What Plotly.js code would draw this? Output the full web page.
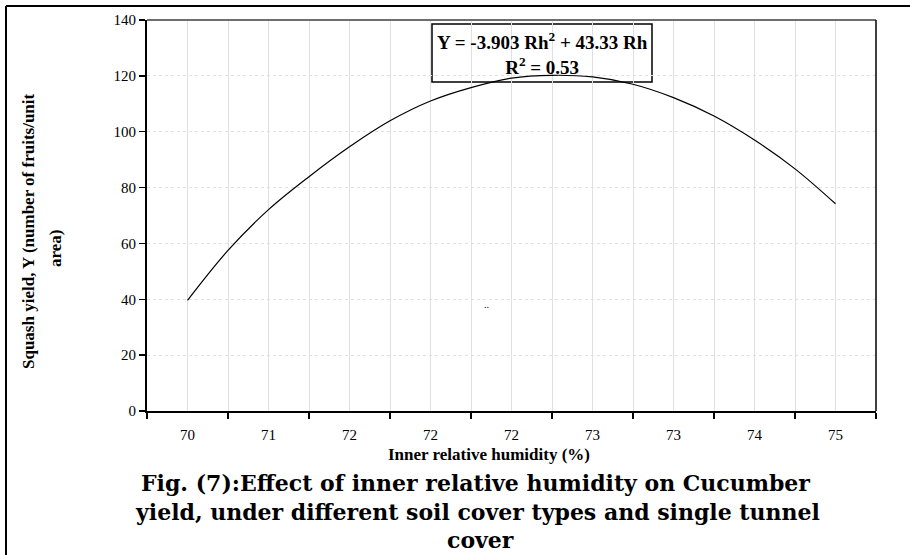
<!DOCTYPE html>
<html>
<head>
<meta charset="utf-8">
<script src="https://cdn.plot.ly/plotly-3.0.1.min.js"></script>
<style>
html,body{margin:0;padding:0;background:#fff;}
#chart{width:910px;height:555px;}
</style>
</head>
<body>
<div id="chart"></div>
<script>
// category tick labels (Inner relative humidity, %)
const tickLabels = ['70','71','72','72','72','73','73','74','75'];
const tickPos = [1,2,3,4,5,6,7,8,9];
// curve sample positions (category index) and squash yield values
const curveX = [1,1.5,2,2.5,3,3.5,4,4.5,5,5.5,6,6.5,7,7.5,8,8.5,9];
const curveY = [39.6,57.5,72.1,83.9,94.6,103.9,111.0,115.8,119.2,120.2,119.6,117.0,112.2,105.6,97.0,86.7,74.2];
const equationText = 'Y = -3.903 Rh<sup>2</sup> + 43.33 Rh<br>R<sup>2</sup> = 0.53';
const yTitleLine1 = 'Squash yield, Y (number of fruits/unit';
const yTitleLine2 = 'area)';
const xTitle = 'Inner relative humidity (%)';
const captionLines = [
  'Fig. (7):Effect of inner relative humidity on Cucumber',
  'yield, under different soil cover types and single tunnel',
  'cover'
];

// plot area in pixels
const W = 910, H = 555;
const L = 147, R = 876, T = 20, B = 411;
const px = x => (x - L) / (R - L);
const py = y => (B - y) / (B - T);

const serif = '"Liberation Serif", "Times New Roman", serif';
const capFont = '"DejaVu Serif", serif';

const trace = {
  x: curveX, y: curveY, type: 'scatter', mode: 'lines',
  line: {color: '#000', width: 1.2, shape: 'spline', smoothing: 1},
  hoverinfo: 'skip', showlegend: false
};

const annotations = [
  {xref:'paper', yref:'paper', x: px(542), y: py(53), xanchor:'center', yanchor:'middle',
   text: equationText, showarrow:false, align:'center',
   font:{family: serif, size:19, color:'#000', weight:'bold'}},
  {xref:'paper', yref:'paper', x: px(28), y: py(231), xanchor:'center', yanchor:'middle',
   text: yTitleLine1, textangle:-90, showarrow:false,
   font:{family: serif, size:17, color:'#000', weight:'bold'}},
  {xref:'paper', yref:'paper', x: px(55), y: py(249), xanchor:'center', yanchor:'middle',
   text: yTitleLine2, textangle:-90, showarrow:false,
   font:{family: serif, size:17, color:'#000', weight:'bold'}},
  {xref:'paper', yref:'paper', x: px(489), y: py(454), xanchor:'center', yanchor:'middle',
   text: xTitle, showarrow:false,
   font:{family: serif, size:17, color:'#000', weight:'bold'}},
  {xref:'paper', yref:'paper', x: px(475), y: py(483), xanchor:'center', yanchor:'middle',
   text: captionLines[0], showarrow:false,
   font:{family: capFont, size:22, color:'#000', weight:'bold'}},
  {xref:'paper', yref:'paper', x: px(477), y: py(512), xanchor:'center', yanchor:'middle',
   text: captionLines[1], showarrow:false,
   font:{family: capFont, size:22, color:'#000', weight:'bold'}},
  {xref:'paper', yref:'paper', x: px(480), y: py(540), xanchor:'center', yanchor:'middle',
   text: captionLines[2], showarrow:false,
   font:{family: capFont, size:22, color:'#000', weight:'bold'}},
  {xref:'paper', yref:'paper', x: px(486), y: py(304), xanchor:'center', yanchor:'middle',
   text: '..', showarrow:false,
   font:{family: serif, size:10, color:'#000'}}
];

const shapes = [
  // equation box (white, above grid but below the curve)
  {type:'rect', xref:'paper', yref:'paper', x0:px(432), x1:px(652), y0:py(82), y1:py(24),
   layer:'between', fillcolor:'#fff', line:{color:'#000', width:1.5}},
  // plot frame top (gray) and right (black)
  {type:'line', xref:'paper', yref:'paper', x0:0, x1:1, y0:1, y1:1, line:{color:'#6e6e6e', width:2}},
  {type:'line', xref:'paper', yref:'paper', x0:1, x1:1, y0:0, y1:1, line:{color:'#000', width:1.5}},
  // outer figure frame (left and top)
  {type:'line', xref:'paper', yref:'paper', x0:px(6), x1:px(6), y0:py(6), y1:py(556), line:{color:'#000', width:2}},
  {type:'line', xref:'paper', yref:'paper', x0:px(6), x1:px(912), y0:py(6), y1:py(6), line:{color:'#000', width:2}}
];

const layout = {
  width: W, height: H,
  margin: {l: L, r: W - R, t: T, b: H - B, pad: 0},
  paper_bgcolor: '#fff', plot_bgcolor: '#fff',
  showlegend: false,
  font: {family: serif, color: '#000', size: 15},
  xaxis: {
    range: [0.5, 9.5], tickmode: 'array', tickvals: tickPos, ticktext: tickLabels,
    ticks: '', ticklabelstandoff: 9, showgrid: true, gridcolor: '#e0e0e0', gridwidth: 1,
    zeroline: false, showline: true, linecolor: '#000', linewidth: 2,
    tickfont: {family: serif, size: 15, color: '#000'},
    minor: {tickmode: 'linear', tick0: 0.5, dtick: 1, ticks: 'outside', ticklen: 6,
            tickwidth: 1.5, tickcolor: '#000', showgrid: true, gridcolor: '#e0e0e0', gridwidth: 1},
    fixedrange: true
  },
  yaxis: {
    range: [0, 140], tickmode: 'linear', tick0: 0, dtick: 20,
    ticks: 'outside', ticklen: 6, tickwidth: 1.5, tickcolor: '#000',
    showgrid: true, gridcolor: '#e0e0e0', gridwidth: 1, griddash: 'dot',
    zeroline: false, showline: true, linecolor: '#000', linewidth: 2,
    tickfont: {family: serif, size: 15, color: '#000'},
    fixedrange: true
  },
  annotations: annotations,
  shapes: shapes
};

Plotly.newPlot('chart', [trace], layout, {displayModeBar: false, staticPlot: true});
</script>
</body>
</html>
